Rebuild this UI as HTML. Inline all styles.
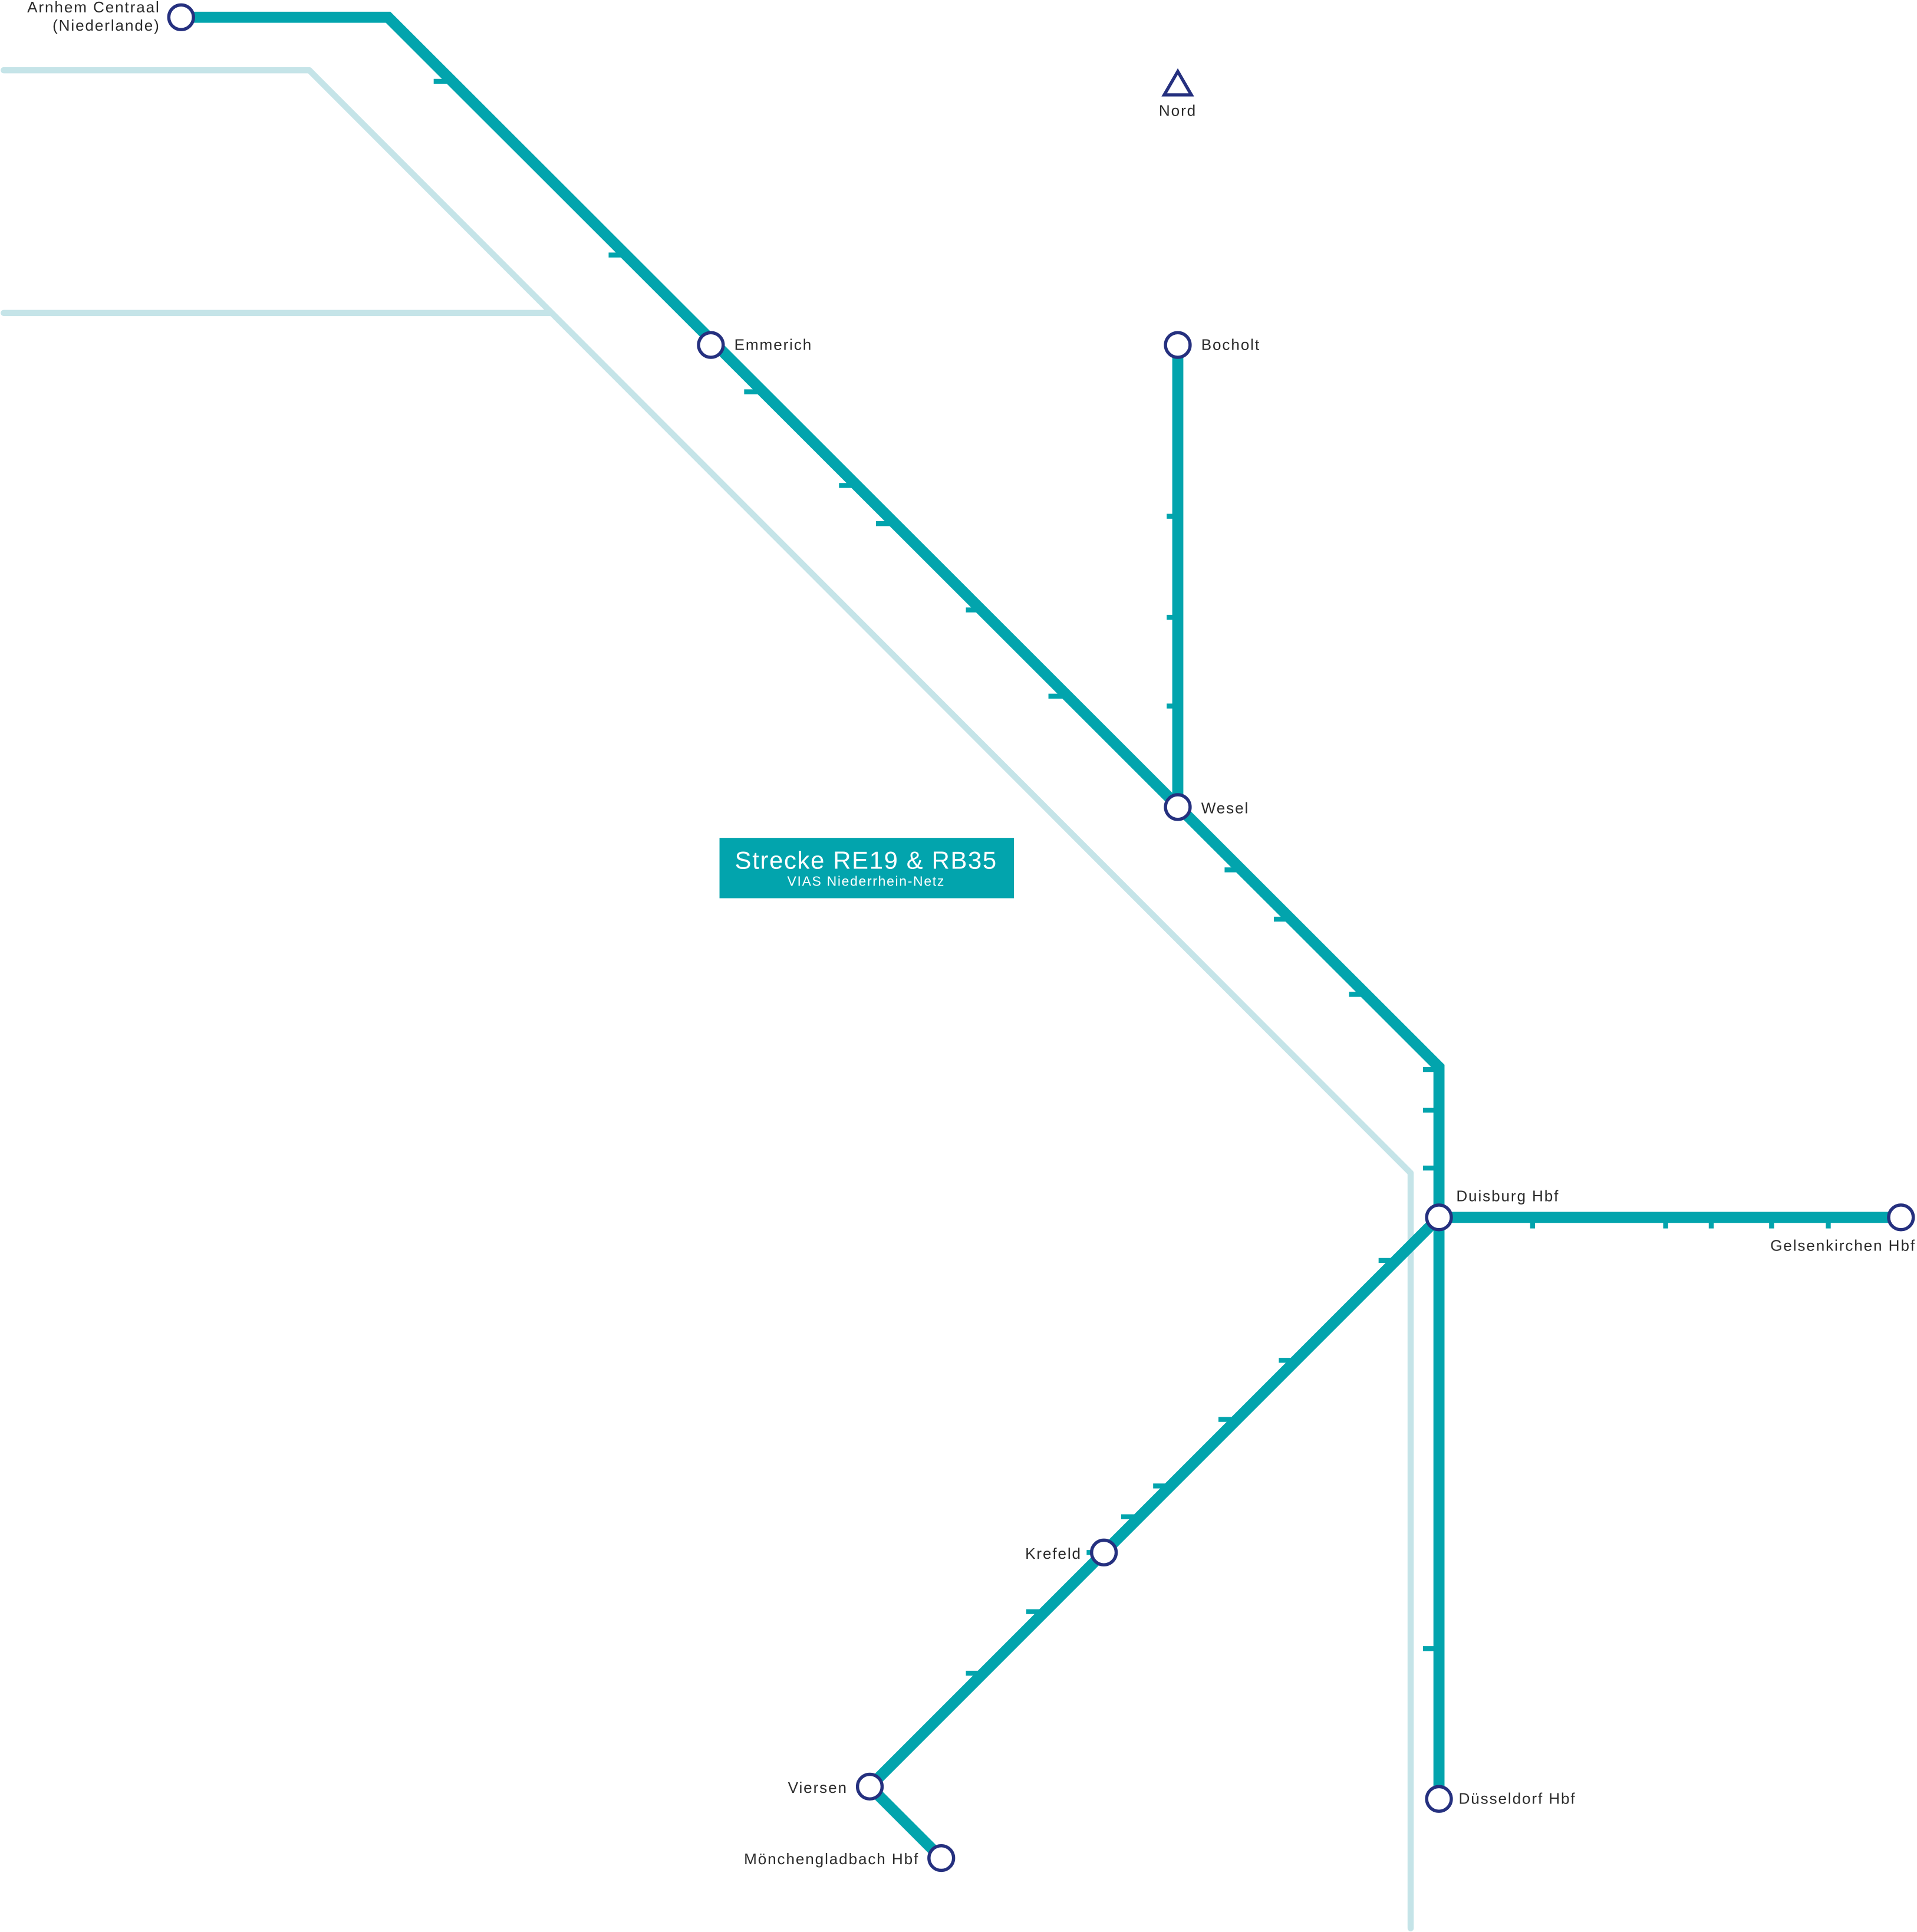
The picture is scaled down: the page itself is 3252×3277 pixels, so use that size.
<!DOCTYPE html>
<html><head><meta charset="utf-8"><style>
html,body{margin:0;padding:0;background:#fff;}
svg{display:block;}
text{font-family:"Liberation Sans",sans-serif;fill:#2b2b2b;}
</style></head><body>
<svg width="3252" height="3277" viewBox="0 0 1556 1568" xmlns="http://www.w3.org/2000/svg">
<g fill="none" stroke="#c5e4e8" stroke-width="5" stroke-linecap="round" stroke-linejoin="round">
<path d="M3,57 L251,57 L1145,952 L1145,1565"/>
<path d="M3,254 L447,254"/>
</g>
<g fill="none" stroke="#02a4ad" stroke-width="9" stroke-linejoin="miter">
<path d="M147,14 L315,14 L1168,866 L1168,1460"/>
<path d="M956,280 L956,655"/>
<path d="M1168,988 L1543,988"/>
<path d="M1168,988 L706,1450 L764,1508"/>
</g>
<g stroke="#02a4ad" stroke-width="4">
<path d="M352,66h12 M494,207h12 M604,318h12 M681,394h12 M711,425h12 M784,495h12 M851,565h12 M994,706h12 M1034,746h12 M1095,807h12"/>
<path d="M1155,868h10 M1155,901h10 M1155,948h10 M1155,1338h10"/>
<path d="M947,419h9 M947,501h9 M947,573h9"/>
<path d="M1244,990v7 M1352,990v7 M1389,990v7 M1438,990v7 M1484,990v7"/>
<path d="M1119,1023h12 M1038,1104h12 M989,1152h12 M936,1206h12 M910,1231h12 M833,1308h12 M784,1358h12 M882,1260h6"/>
</g>
<g fill="#fff" stroke="#25307f" stroke-width="2.6">
<circle cx="147" cy="14" r="10"/>
<circle cx="577" cy="280" r="10"/>
<circle cx="956" cy="280" r="10"/>
<circle cx="956" cy="655" r="10"/>
<circle cx="1168" cy="988" r="10"/>
<circle cx="1543" cy="988" r="10"/>
<circle cx="1168" cy="1460" r="10"/>
<circle cx="896" cy="1260" r="10"/>
<circle cx="706" cy="1450" r="10"/>
<circle cx="764" cy="1508" r="10"/>
</g>
<path d="M956,58 L945,77 L967,77 Z" fill="none" stroke="#25307f" stroke-width="2.6" stroke-linejoin="miter"/>
<g font-size="12.5" letter-spacing="0.9">
<text x="956" y="94" text-anchor="middle">Nord</text>
<text x="130" y="10" text-anchor="end">Arnhem Centraal</text>
<text x="130" y="25" text-anchor="end">(Niederlande)</text>
<text x="596" y="284">Emmerich</text>
<text x="975" y="284">Bocholt</text>
<text x="975" y="660">Wesel</text>
<text x="1182" y="975">Duisburg Hbf</text>
<text x="1555" y="1015" text-anchor="end">Gelsenkirchen Hbf</text>
<text x="1184" y="1464">Düsseldorf Hbf</text>
<text x="878" y="1265" text-anchor="end">Krefeld</text>
<text x="688" y="1455" text-anchor="end">Viersen</text>
<text x="746" y="1513" text-anchor="end">Mönchengladbach Hbf</text>
</g>
<rect x="584" y="680" width="239" height="49" fill="#02a4ad"/>
<text x="703" y="705" text-anchor="middle" font-size="20" letter-spacing="0.8" style="fill:#fff">Strecke RE19 &amp; RB35</text>
<text x="703" y="719" text-anchor="middle" font-size="11" letter-spacing="0.8" style="fill:#fff">VIAS Niederrhein-Netz</text>
</svg>
</body></html>
